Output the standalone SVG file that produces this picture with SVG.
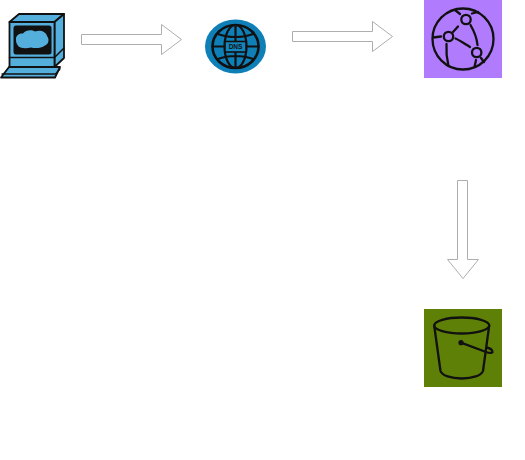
<svg xmlns="http://www.w3.org/2000/svg" width="525" height="460" viewBox="0 0 525 460">
<style>
.arrow{fill:#fff;stroke:#aeaeae;stroke-width:1}
.pc{fill:#55afdc;stroke:#111;stroke-width:1.800;stroke-linejoin:round}
.ln{fill:none;stroke:#111;stroke-linecap:round;stroke-linejoin:round}
</style>
<rect width="525" height="460" fill="#fff"/>
<g id="connectors">
<path class="arrow" d="M81.500 34.500H161.500V24.500L181.500 39.500L161.500 54.500V44.500H81.500Z"/>
<path class="arrow" d="M292.500 31.500H372.500V21.500L392.500 36.500L372.500 51.500V41.500H292.500Z"/>
<path class="arrow" d="M457.500 180.500H467.500V259.500H478.500L463 278.500L447.500 259.500H457.500Z"/>
</g>
<g id="client">
<path class="pc" d="M9.500 22L19 14H64L54.500 22Z"/>
<path class="pc" d="M54.500 22L64 14V58L54.500 67Z"/>
<rect class="pc" x="9.500" y="22" width="45" height="45"/>
<path class="ln" stroke-width="1.500" d="M9.500 57.500H54.500M54.500 57.500L64 48"/>
<rect x="13.500" y="25.500" width="38" height="29" rx="2.500" fill="#111"/>
<path d="M16 40C15.500 35.500 19 33 23 33.500C26 29.500 32 29.500 35 31.500C40 29.500 46 31.500 47 36C49.500 39 49 44 45 45.500C41 48.500 35 48.500 31 47.500C26 49 19 48.500 17.500 45C16.500 43.500 16 42 16 40Z" fill="#55afdc"/>
<path class="pc" d="M1 77.500L9 67H60L55 77.500Z"/>
<path class="ln" stroke-width="1.300" d="M2 74H55.500L60 69"/>
</g>
<g id="dns">
<ellipse cx="235.500" cy="46.500" rx="30.500" ry="27" fill="#0f7fb8"/>
<g class="ln" stroke-width="2.200">
<ellipse cx="235.500" cy="46.500" rx="23" ry="21.500" stroke-width="2.600"/>
<ellipse cx="235.500" cy="46.500" rx="11" ry="21.500"/>
<path d="M235.500 25V68M218 34C228 38 243 38 253 34M218 59C228 55 243 55 253 59M212.500 46.500H225M246 46.500H258.500"/>
</g>
<rect x="225" y="41.500" width="21" height="10.500" fill="#1585bd" stroke="#111" stroke-width="1.600"/>
<text x="235.500" y="49.300" text-anchor="middle" font-family="'Liberation Sans',Arial,sans-serif" font-size="6.500" font-weight="700" fill="#111">DNS</text>
</g>
<g id="cloudfront">
<rect x="424" y="0" width="78" height="78" fill="#b07cfd"/>
<g class="ln" stroke-width="2.300">
<circle cx="463" cy="39" r="30.500"/>
<circle cx="466" cy="19.500" r="4.700"/>
<circle cx="448.500" cy="36.500" r="4.700"/>
<circle cx="476.700" cy="52.500" r="4.700"/>
<path d="M453 32L458 26.500M455.500 38.500C460 40.500 465 44 470 47M470.500 25C474.500 32 477 39 477.500 45M446.500 44C446 52 447 60 448.500 66M433 37.500L441 36.500M455 10L460 14M472 13.500L478 12M476 60L474.500 67M481 58L484 62"/>
</g>
</g>
<g id="s3">
<rect x="424" y="309" width="78" height="78" fill="#5f8007"/>
<g class="ln" stroke-width="2.300">
<ellipse cx="461.700" cy="325.500" rx="27.500" ry="8"/>
<path d="M434.200 325.500L440.500 371C442 375.500 451 378.500 461.700 378.500C472.500 378.500 481.500 375.500 483 371L489.200 325.500"/>
<path d="M461 342.700L486 352C490 353.500 493 353 492.500 351.500C492 349.500 489 348 486.500 347.500"/>
</g>
<circle cx="461" cy="342.700" r="2.600" fill="#111"/>
</g>
</svg>
